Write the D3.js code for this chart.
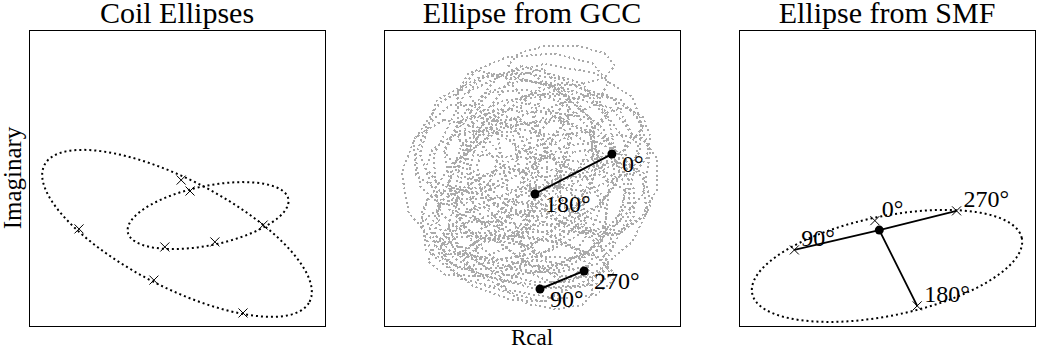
<!DOCTYPE html>
<html>
<head>
<meta charset="utf-8">
<script src="https://d3js.org/d3.v7.min.js"></script>
<style>
  body { margin: 0; background: #fff; }
</style>
</head>
<body>
<div id="chart"></div>
<script>
// panel titles and axis labels
var titles = ["Coil Ellipses", "Ellipse from GCC", "Ellipse from SMF"];
var xLabel = "Rcal", yLabel = "Imaginary";

// ellipses as [cx, cy, semi-major, semi-minor, angle deg], data units 0..100
var coilEllipses = [
  [50.0, 31.3, 50.4, 18.2, -27.3],
  [60.5, 37.3, 27.7, 10.0, 11.8]
];
// crosses on the coil ellipses
var coilCrosses = [
  [51.4, 49.3], [16.9, 32.8], [42.2, 15.5], [72.3, 4.4],
  [54.4, 45.6], [79.1, 34.1], [62.8, 28.4], [45.9, 26.7]
];

// GCC ellipse traces (grey cloud)
var gccEllipses = [
  [35, 65, 28, 18, 30], [60, 72, 28, 16, -10], [70, 55, 24, 20, 80],
  [68, 35, 26, 16, 40], [45, 28, 32, 14, 165], [24, 48, 22, 18, 100],
  [50, 80, 26, 12, 5], [30, 30, 20, 14, 140], [78, 48, 18, 14, 60],
  [52, 20, 26, 10, 170], [40, 20, 22, 10, 160], [25, 58, 18, 14, 70],
  [60, 88, 18, 7, 0], [80, 62, 12, 10, 80], [55, 14, 16, 8, 170],
  [50, 50, 30, 22, 20], [48, 45, 28, 18, 120], [52, 55, 25, 20, 70],
  [45, 38, 30, 15, 10], [55, 40, 22, 16, 150], [42, 55, 24, 16, 45],
  [58, 60, 22, 14, 100], [50, 30, 28, 12, 175], [46, 25, 24, 9, 165],
  [38, 48, 20, 14, 80], [62, 48, 20, 12, 30], [50, 65, 22, 14, 160],
  [44, 70, 20, 12, 20], [55, 50, 35, 28, 50], [47, 52, 38, 30, 140],
  [50, 48, 40, 34, 95], [43, 33, 26, 12, 20], [57, 27, 20, 9, 160],
  [36, 38, 18, 12, 50], [64, 66, 16, 12, 130], [40, 62, 26, 14, 110],
  [62, 40, 25, 14, 85], [33, 45, 24, 12, 60], [68, 62, 20, 16, 20],
  [48, 22, 30, 8, 172], [52, 75, 24, 10, 170], [30, 56, 16, 10, 10],
  [72, 45, 16, 12, 120], [42, 45, 34, 20, 35], [58, 52, 34, 18, 155],
  [38, 28, 24, 10, 15], [46, 58, 30, 16, 75], [56, 34, 28, 14, 25],
  [52, 62, 32, 16, 5], [40, 52, 22, 18, 130]
];
// GCC estimated points: [label, x, y]
var gccPoints = [
  ["0°", 77.0, 58.1], ["180°", 51.0, 44.6],
  ["270°", 67.6, 18.6], ["90°", 52.7, 12.5]
];
var gccLinks = [[0, 1], [2, 3]];

// SMF ellipse, centre and phase crosses
var smfEllipse = [50.0, 20.3, 46.5, 16.8, 11.6];
var smfCenter = [47.4, 32.4];
var smfCrosses = [
  ["0°", 45.9, 35.6], ["90°", 18.7, 25.7],
  ["180°", 60.2, 6.8], ["270°", 73.5, 38.9]
];
var smfLinks = ["90°", "270°", "180°"];

var W = 1038, H = 350;
var panelLeft = [29, 384, 739], panelSize = 296, panelTop = 30;
var serif = "'Liberation Serif', 'Times New Roman', Tinos, 'DejaVu Serif', 'Noto Serif', serif";

var svg = d3.select("#chart").append("svg")
  .attr("width", W).attr("height", H)
  .attr("font-family", serif);

function ellipsePts(e, n) {
  var pts = [], r = e[4] * Math.PI / 180;
  for (var i = 0; i <= n; i++) {
    var t = 2 * Math.PI * i / n;
    var u = e[2] * Math.cos(t), v = e[3] * Math.sin(t);
    pts.push([e[0] + u * Math.cos(r) - v * Math.sin(r),
              e[1] + u * Math.sin(r) + v * Math.cos(r)]);
  }
  return pts;
}

var panels = panelLeft.map(function(left, i) {
  var x = d3.scaleLinear().domain([0, 100]).range([left, left + panelSize]);
  var y = d3.scaleLinear().domain([0, 100]).range([panelTop + panelSize, panelTop]);
  var g = svg.append("g");
  g.append("text")
    .attr("x", left + panelSize / 2).attr("y", 23)
    .attr("text-anchor", "middle").attr("font-size", 30)
    .text(titles[i]);
  return {x: x, y: y, g: g, left: left};
});

// frames drawn last
function frame(p) {
  p.g.append("rect")
    .attr("x", p.left + 0.5).attr("y", panelTop + 0.5)
    .attr("width", panelSize).attr("height", panelSize)
    .attr("fill", "none").attr("stroke", "#000").attr("stroke-width", 1);
}

var cross = d3.symbol().type(d3.symbolTimes).size(55);

// panel 1
var p1 = panels[0];
var line1 = d3.line().x(function(d) { return p1.x(d[0]); }).y(function(d) { return p1.y(d[1]); });
p1.g.selectAll(".coil").data(coilEllipses).enter().append("path")
  .attr("d", function(d) { return line1(ellipsePts(d, 120)); })
  .attr("fill", "none").attr("stroke", "#000")
  .attr("stroke-width", 2).attr("stroke-dasharray", "2,3");
p1.g.selectAll(".cx").data(coilCrosses).enter().append("path")
  .attr("d", cross)
  .attr("transform", function(d) { return "translate(" + p1.x(d[0]) + "," + p1.y(d[1]) + ")"; })
  .attr("fill", "none").attr("stroke", "#000").attr("stroke-width", 1);
frame(p1);
svg.append("text")
  .attr("transform", "translate(21," + (panelTop + panelSize / 2) + ") rotate(-90)")
  .attr("text-anchor", "middle").attr("font-size", 25)
  .text(yLabel);

// panel 2
var p2 = panels[1];
var line2 = d3.line().x(function(d) { return p2.x(d[0]); }).y(function(d) { return p2.y(d[1]); });
p2.g.selectAll(".gcc").data(gccEllipses).enter().append("path")
  .attr("d", function(d) { return line2(ellipsePts(d, 10)); })
  .attr("fill", "none").attr("stroke", "#aaaaaa")
  .attr("stroke-width", 2).attr("stroke-dasharray", "2,2.8")
  .attr("shape-rendering", "crispEdges");
p2.g.selectAll(".lk").data(gccLinks).enter().append("line")
  .attr("x1", function(d) { return p2.x(gccPoints[d[0]][1]); })
  .attr("y1", function(d) { return p2.y(gccPoints[d[0]][2]); })
  .attr("x2", function(d) { return p2.x(gccPoints[d[1]][1]); })
  .attr("y2", function(d) { return p2.y(gccPoints[d[1]][2]); })
  .attr("stroke", "#000").attr("stroke-width", 2);
p2.g.selectAll(".pt").data(gccPoints).enter().append("circle")
  .attr("cx", function(d) { return p2.x(d[1]); })
  .attr("cy", function(d) { return p2.y(d[2]); })
  .attr("r", 4.5).attr("fill", "#000");
p2.g.selectAll(".lb").data(gccPoints).enter().append("text")
  .attr("x", function(d) { return p2.x(d[1]) + 10; })
  .attr("y", function(d) { return p2.y(d[2]) + 18; })
  .attr("font-size", 24)
  .text(function(d) { return d[0]; });
frame(p2);
svg.append("text")
  .attr("x", p2.left + panelSize / 2).attr("y", 345)
  .attr("text-anchor", "middle").attr("font-size", 23)
  .text(xLabel);

// panel 3
var p3 = panels[2];
var line3 = d3.line().x(function(d) { return p3.x(d[0]); }).y(function(d) { return p3.y(d[1]); });
p3.g.append("path")
  .attr("d", line3(ellipsePts(smfEllipse, 120)))
  .attr("fill", "none").attr("stroke", "#000")
  .attr("stroke-width", 2).attr("stroke-dasharray", "2,3");
var byLabel = {};
smfCrosses.forEach(function(d) { byLabel[d[0]] = d; });
p3.g.selectAll(".sl").data(smfLinks).enter().append("line")
  .attr("x1", p3.x(smfCenter[0])).attr("y1", p3.y(smfCenter[1]))
  .attr("x2", function(k) { return p3.x(byLabel[k][1]); })
  .attr("y2", function(k) { return p3.y(byLabel[k][2]); })
  .attr("stroke", "#000").attr("stroke-width", 1.8);
p3.g.selectAll(".sx").data(smfCrosses).enter().append("path")
  .attr("d", cross)
  .attr("transform", function(d) { return "translate(" + p3.x(d[1]) + "," + p3.y(d[2]) + ")"; })
  .attr("fill", "none").attr("stroke", "#000").attr("stroke-width", 1);
p3.g.append("circle")
  .attr("cx", p3.x(smfCenter[0])).attr("cy", p3.y(smfCenter[1]))
  .attr("r", 4.5).attr("fill", "#000");
p3.g.selectAll(".sb").data(smfCrosses).enter().append("text")
  .attr("x", function(d) { return p3.x(d[1]) + 7; })
  .attr("y", function(d) { return p3.y(d[2]) - 4; })
  .attr("font-size", 24)
  .text(function(d) { return d[0]; });
frame(p3);
</script>
</body>
</html>
